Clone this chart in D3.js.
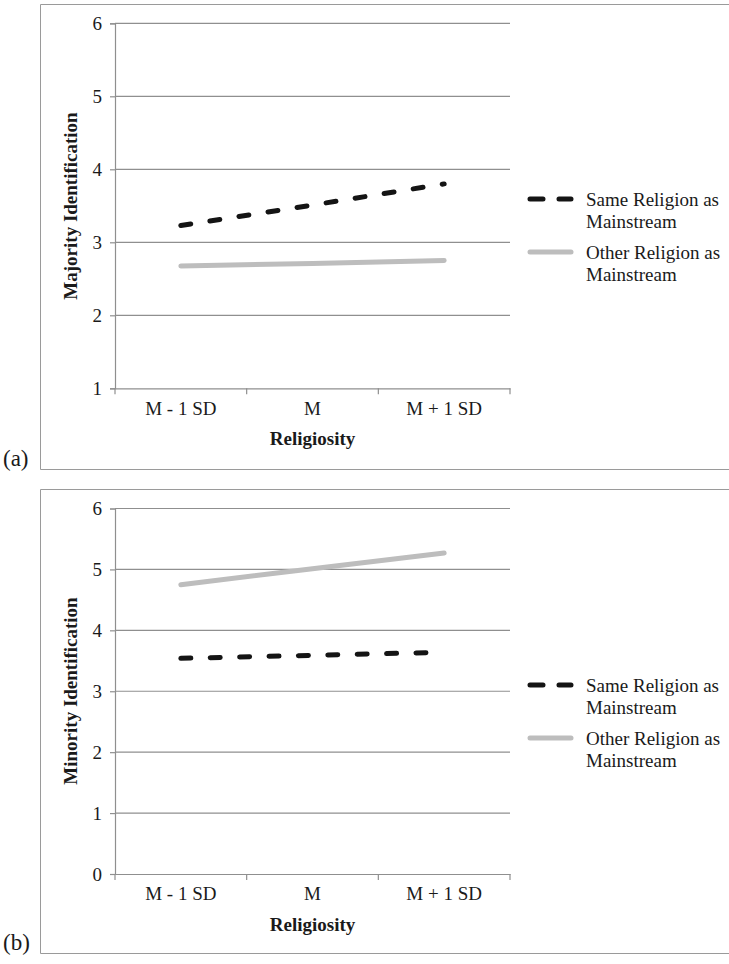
<!DOCTYPE html>
<html>
<head>
<meta charset="utf-8">
<script src="https://cdn.jsdelivr.net/npm/d3@7"></script>
<style>
  html, body { margin: 0; padding: 0; background: #fff; }
  svg { display: block; }
</style>
</head>
<body>
<svg id="chart" width="729" height="964"></svg>
<script>
// ---- data ----
const categories = ["M - 1 SD", "M", "M + 1 SD"];
const seriesNames = ["Same Religion as Mainstream", "Other Religion as Mainstream"];
const majoritySame = [3.23, 3.51, 3.80];
const majorityOther = [2.675, 2.71, 2.75];
const minoritySame = [3.54, 3.59, 3.64];
const minorityOther = [4.75, 5.01, 5.27];
const majorityTicks = [1, 2, 3, 4, 5, 6];
const minorityTicks = [0, 1, 2, 3, 4, 5, 6];
const xTitle = "Religiosity";

const svg = d3.select("#chart");
const FAMILY = "Liberation Serif";
const FONT = 19;
const TXT = "#1a1a1a";
const gridColor = "#8f8f8f";
const sameColor = "#141414";
const otherColor = "#bdbdbd";

function styleText(sel, size, weight) {
  sel.style("font-family", FAMILY).style("font-size", size + "px")
     .style("font-weight", weight || "normal").style("fill", TXT);
  return sel;
}

function panel(opts) {
  const g = svg.append("g");
  // frame
  g.append("path")
    .attr("d", `M735,${opts.frameTop}H${opts.frameLeft}V${opts.frameBottom}H735`)
    .attr("fill", "none").attr("stroke", "#9a9a9a").attr("stroke-width", 1);
  styleText(g.append("text").text(opts.tag)
    .attr("x", 3).attr("y", opts.frameBottom - 4), 23);

  const x = d3.scaleBand().domain(categories).range([115, 510]).padding(0);
  const y = d3.scaleLinear().domain(opts.yDomain).range([opts.yBottom, opts.yTop]);

  // gridlines
  g.append("g").selectAll("line").data(opts.ticks.filter(t => t !== opts.yDomain[0])).join("line")
    .attr("x1", 115).attr("x2", 510)
    .attr("y1", d => y(d)).attr("y2", d => y(d))
    .attr("stroke", gridColor).attr("stroke-width", 1.2);

  // y axis
  const ya = g.append("g").attr("transform", "translate(115,0)")
    .call(d3.axisLeft(y).tickValues(opts.ticks).tickFormat(d3.format("d")).tickSize(5).tickPadding(8));
  ya.select(".domain").attr("stroke", gridColor).attr("stroke-width", 1.2);
  ya.selectAll(".tick line").attr("stroke", gridColor).attr("stroke-width", 1.2);
  styleText(ya.selectAll(".tick text"), FONT);

  // x axis
  const xa = g.append("g").attr("transform", `translate(0,${y(opts.yDomain[0])})`)
    .call(d3.axisBottom(x).tickSize(0).tickPadding(13));
  xa.select(".domain").attr("stroke", gridColor).attr("stroke-width", 1.2);
  styleText(xa.selectAll(".tick text"), FONT);
  const edges = categories.map(c => x(c)).concat([x(categories[categories.length - 1]) + x.bandwidth()]);
  xa.selectAll("line.edge").data(edges).join("line").attr("class", "edge")
    .attr("x1", d => d).attr("x2", d => d).attr("y1", 0).attr("y2", 6)
    .attr("stroke", gridColor).attr("stroke-width", 1.2);

  // axis titles
  styleText(g.append("text").text(xTitle)
    .attr("x", (115 + 510) / 2).attr("y", y(opts.yDomain[0]) + 50).attr("dy", "0.35em")
    .attr("text-anchor", "middle"), FONT, "bold");
  styleText(g.append("text").text(opts.yTitle)
    .attr("transform", `translate(70,${opts.yTitleY}) rotate(-90)`)
    .attr("dy", "0.35em")
    .attr("text-anchor", "middle"), FONT, "bold");

  // series
  const line = d3.line().x((d, i) => x(categories[i]) + x.bandwidth() / 2).y(d => y(d));
  g.append("path").datum(opts.other).attr("d", line)
    .attr("fill", "none").attr("stroke", otherColor).attr("stroke-width", 5).attr("stroke-linecap", "round");
  g.append("path").datum(opts.same).attr("d", line)
    .attr("fill", "none").attr("stroke", sameColor).attr("stroke-width", 5)
    .attr("stroke-linecap", "round").attr("stroke-dasharray", "10,19.4");

  // legend
  const lg = g.append("g");
  const items = [
    { name: seriesNames[0], color: sameColor, dash: "13,16", y: opts.legendY },
    { name: seriesNames[1], color: otherColor, dash: null, y: opts.legendY + 53 }
  ];
  items.forEach(it => {
    const l = lg.append("line").attr("x1", 530).attr("x2", 571).attr("y1", it.y).attr("y2", it.y)
      .attr("stroke", it.color).attr("stroke-width", 5).attr("stroke-linecap", "round");
    if (it.dash) l.attr("stroke-dasharray", it.dash);
    const words = it.name.split(" ");
    const t = styleText(lg.append("text").attr("x", 586).attr("y", it.y), FONT);
    t.append("tspan").attr("x", 586).attr("dy", "0.35em").text(words.slice(0, 3).join(" "));
    t.append("tspan").attr("x", 586).attr("dy", "1.2em").text(words.slice(3).join(" "));
  });
}

panel({
  tag: "(a)", frameTop: 4.5, frameLeft: 40.5, frameBottom: 469.5,
  yDomain: [1, 6], yTop: 23.3, yBottom: 388.3, ticks: majorityTicks, yTitleY: 206,
  yTitle: "Majority Identification", same: majoritySame, other: majorityOther, legendY: 199
});
panel({
  tag: "(b)", frameTop: 489.5, frameLeft: 40.5, frameBottom: 953.5,
  yDomain: [0, 6], yTop: 508.5, yBottom: 874, ticks: minorityTicks, yTitleY: 691,
  yTitle: "Minority Identification", same: minoritySame, other: minorityOther, legendY: 685
});
</script>
</body>
</html>
